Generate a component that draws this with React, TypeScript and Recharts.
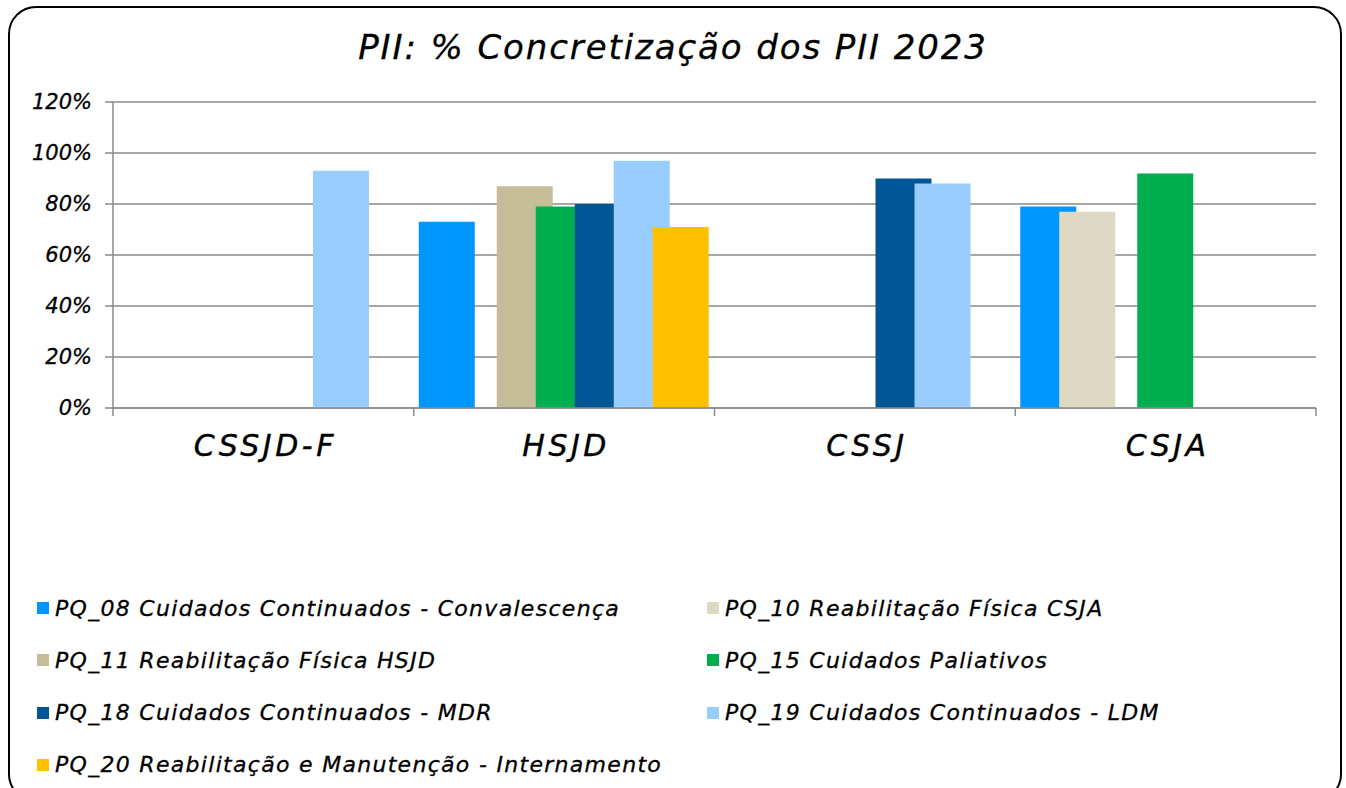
import { BarChart, Bar, XAxis, YAxis, CartesianGrid } from "recharts";

const categories = ["CSSJD-F", "HSJD", "CSSJ", "CSJA"];

const pq08 = [null, 0.73, null, 0.79];
const pq10 = [null, null, null, 0.77];
const pq11 = [null, 0.87, null, null];
const pq15 = [null, 0.79, null, 0.92];
const pq18 = [null, 0.8, 0.9, null];
const pq19 = [0.93, 0.97, 0.88, null];
const pq20 = [null, 0.71, null, null];

const yTicks = [0, 0.2, 0.4, 0.6, 0.8, 1.0, 1.2];

const series = [
  { key: "pq08", name: "PQ_08 Cuidados Continuados - Convalescença", values: pq08, color: "#0096FF" },
  { key: "pq10", name: "PQ_10 Reabilitação Física CSJA", values: pq10, color: "#DDD9C3" },
  { key: "pq11", name: "PQ_11 Reabilitação Física HSJD", values: pq11, color: "#C4BD97" },
  { key: "pq15", name: "PQ_15 Cuidados Paliativos", values: pq15, color: "#00AE4F" },
  { key: "pq18", name: "PQ_18 Cuidados Continuados - MDR", values: pq18, color: "#005594" },
  { key: "pq19", name: "PQ_19 Cuidados Continuados - LDM", values: pq19, color: "#99CCFF" },
  { key: "pq20", name: "PQ_20 Reabilitação e Manutenção - Internamento", values: pq20, color: "#FFC000" }
];

const data = categories.map((c, i) => {
  const row: Record<string, string | number | null> = { category: c };
  series.forEach((s) => (row[s.key] = s.values[i]));
  return row;
});

const W = 1346;
const H = 788;
const PLOT_LEFT = 113;
const PLOT_RIGHT = 1316;
const PLOT_TOP = 102;
const PLOT_BOTTOM = 408;
const FONT = "'DejaVu Sans', sans-serif";
const AXIS_GREY = "#8a8a8a";

function CategoryTick(props: any) {
  const { x, payload, index } = props;
  const half = (PLOT_RIGHT - PLOT_LEFT) / categories.length / 2;
  return (
    <g>
      <line x1={x - half} y1={PLOT_BOTTOM} x2={x - half} y2={PLOT_BOTTOM + 8} stroke={AXIS_GREY} strokeWidth={1.5} />
      {index === categories.length - 1 && (
        <line x1={x + half} y1={PLOT_BOTTOM} x2={x + half} y2={PLOT_BOTTOM + 8} stroke={AXIS_GREY} strokeWidth={1.5} />
      )}
      <text
        x={x + 2}
        y={PLOT_BOTTOM + 48}
        textAnchor="middle"
        fontSize={30}
        fontStyle="italic"
        fontFamily={FONT}
        letterSpacing={3.5}
        fill="#000"
        stroke="#000"
        strokeWidth={0.4}
      >
        {payload.value}
      </text>
    </g>
  );
}

function YTick(props: any) {
  const { x, y, payload } = props;
  return (
    <text
      x={x}
      y={y}
      dy={7}
      textAnchor="end"
      fontSize={21}
      fontStyle="italic"
      fontFamily={FONT}
      fill="#000"
      stroke="#000"
      strokeWidth={0.3}
    >
      {`${Math.round(payload.value * 100)}%`}
    </text>
  );
}

export default function App() {
  return (
    <div style={{ position: "absolute", left: 0, top: 0, width: W, height: H, background: "#fff", overflow: "hidden" }}>
      <div
        style={{
          position: "absolute",
          left: 8,
          top: 6,
          width: 1330,
          height: 792,
          border: "2px solid #000",
          borderRadius: 28
        }}
      />
      <div
        style={{
          position: "absolute",
          left: 0,
          top: 26,
          width: W,
          textAlign: "center",
          fontFamily: FONT,
          fontStyle: "italic",
          fontSize: 34,
          letterSpacing: 1.9,
          lineHeight: "42px",
          color: "#000",
          WebkitTextStroke: "0.3px #000"
        }}
      >
        PII: % Concretização dos PII 2023
      </div>
      <div style={{ position: "absolute", left: 0, top: 0 }}>
        <BarChart
          width={W}
          height={H}
          data={data}
          margin={{ top: PLOT_TOP, right: W - PLOT_RIGHT, bottom: 0, left: 0 }}
          barSize={56}
          barGap={-17}
        >
          <CartesianGrid vertical={false} stroke={AXIS_GREY} strokeWidth={1.5} />
          <XAxis
            dataKey="category"
            height={H - PLOT_BOTTOM}
            tickLine={false}
            axisLine={{ stroke: AXIS_GREY, strokeWidth: 1.5 }}
            tick={<CategoryTick />}
            interval={0}
          />
          <YAxis
            width={PLOT_LEFT}
            domain={[0, 1.2]}
            ticks={yTicks}
            tickSize={8}
            tickMargin={13}
            axisLine={{ stroke: AXIS_GREY, strokeWidth: 1.5 }}
            tickLine={{ stroke: AXIS_GREY, strokeWidth: 1.5 }}
            tick={<YTick />}
          />
          {series.map((s) => (
            <Bar key={s.key} dataKey={s.key} name={s.name} fill={s.color} isAnimationActive={false} />
          ))}
        </BarChart>
      </div>
      {series.map((s, i) => {
        const col = i % 2;
        const row = Math.floor(i / 2);
        return (
          <div
            key={s.key}
            style={{
              position: "absolute",
              left: col === 0 ? 37 : 707,
              top: 608 + row * 52.3 - 15,
              height: 30,
              display: "flex",
              alignItems: "center",
              fontFamily: FONT,
              fontStyle: "italic",
              fontSize: 22,
              letterSpacing: 1.3,
              color: "#000",
              whiteSpace: "nowrap",
              WebkitTextStroke: "0.3px #000"
            }}
          >
            <span style={{ display: "inline-block", width: 12, height: 12, background: s.color, marginRight: 6 }} />
            {s.name}
          </div>
        );
      })}
    </div>
  );
}
